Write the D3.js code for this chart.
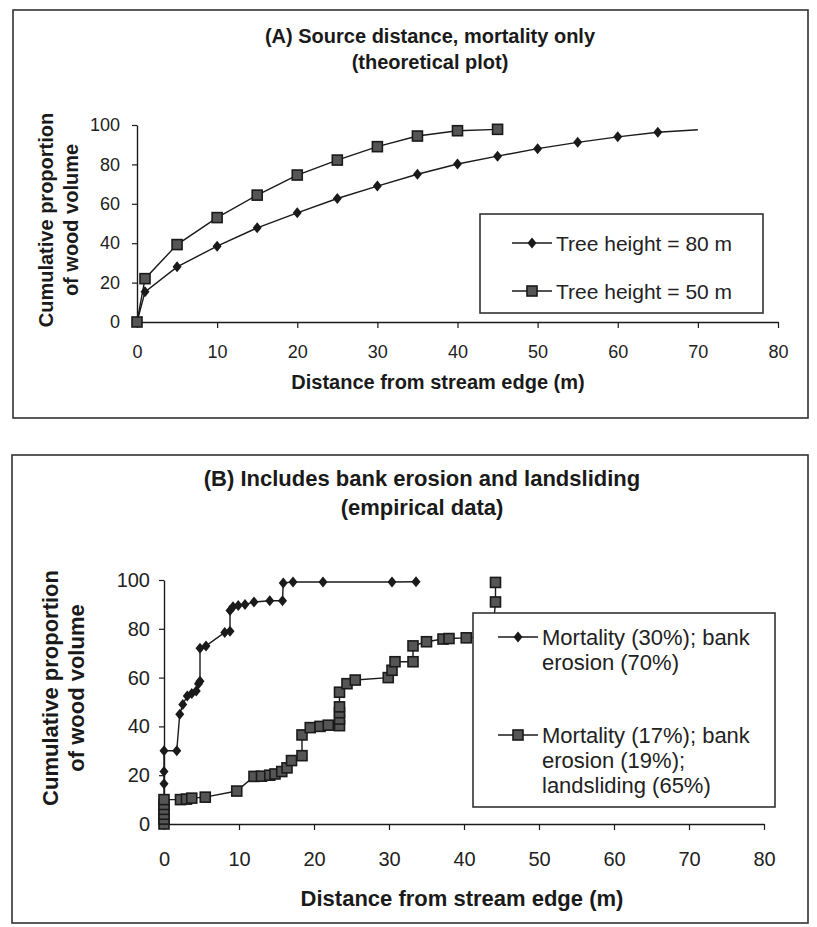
<!DOCTYPE html>
<html>
<head>
<meta charset="utf-8">
<script src="https://cdn.jsdelivr.net/npm/d3@7"></script>
<style>
  body { margin: 0; background: #fff; }
  svg { display: block; font-family: "Liberation Sans", Arial, sans-serif; }
</style>
</head>
<body>
<svg width="817" height="927"></svg>
<script>
// tick values shared by both panels
var xTicks = [0, 10, 20, 30, 40, 50, 60, 70, 80];
var yTicks = [0, 20, 40, 60, 80, 100];

// panel A: theoretical curves [distance m, cumulative %]
var treeH80 = [[0, 0], [1, 15.3], [5, 28], [10, 38.5], [15, 47.8], [20, 55.4], [25, 62.7], [30, 69],
  [35, 75], [40, 80.2], [45, 84.2], [50, 88], [55, 91.2], [60, 94], [65, 96.3], [70, 97.6]];
var treeH50 = [[0, 0], [1, 22], [5, 39.3], [10, 53], [15, 64.4], [20, 74.6], [25, 82.2], [30, 89],
  [35, 94.4], [40, 97.1], [45, 97.8]];

// panel B: empirical data
var mortBank = [[0, 0], [0, 16.5], [0, 21.5], [0, 30], [1.7, 30], [2.1, 45], [2.5, 49], [3.1, 52.5],
  [3.7, 53.5], [4.3, 54.5], [4.6, 57.5], [4.8, 58.5], [4.8, 72], [5.6, 73], [8.1, 78.5], [8.8, 79],
  [8.8, 87.5], [9.2, 89], [9.9, 89.5], [10.8, 90], [12, 91], [14.1, 91.5], [15.8, 91.5], [15.9, 98.8],
  [17.2, 99.2], [21.2, 99.2], [30.4, 99.2], [33.6, 99.3]];
var mortBankSlide = [[0, 0], [0, 2], [0, 4], [0, 6], [0, 8], [0, 10], [2.2, 10], [3, 10.2], [3.7, 10.6],
  [5.5, 11], [9.7, 13.5], [12, 19.5], [13, 19.6], [14.1, 20], [14.8, 20.5], [15.7, 21.5], [16.4, 23],
  [17, 26], [18.4, 28], [18.4, 36.5], [19.5, 39.5], [20.8, 40], [21.9, 40.5], [23.4, 40.3], [23.4, 43],
  [23.4, 45.6], [23.4, 48], [23.4, 54], [24.4, 57.5], [25.5, 59], [29.9, 60], [30.4, 63], [30.8, 66.5],
  [33.2, 66.5], [33.2, 73], [35, 74.7], [37.2, 75.8], [38, 76], [40.3, 76.3], [43.8, 77], [44.2, 91],
  [44.2, 99]];

var svg = d3.select("svg");
var ink = "#1a1a1a";

function diamond(sel) {
  sel.append("path").attr("d", "M0,-5.5L4.5,0L0,5.5L-4.5,0Z").attr("fill", ink);
}
function square(sel) {
  sel.append("rect").attr("x", -5).attr("y", -5).attr("width", 10).attr("height", 10)
    .attr("fill", "#555").attr("stroke", ink).attr("stroke-width", 1.6);
}

function drawPanel(p) {
  var g = svg.append("g");
  g.append("rect").attr("x", p.frame[0]).attr("y", p.frame[1])
    .attr("width", p.frame[2] - p.frame[0]).attr("height", p.frame[3] - p.frame[1])
    .attr("fill", "none").attr("stroke", "#333").attr("stroke-width", 1.6);

  var x = d3.scaleLinear().domain([0, 80]).range([p.x0, p.x1]);
  var y = d3.scaleLinear().domain([0, 100]).range([p.y0, p.y1]);

  var xAxis = g.append("g").attr("transform", "translate(0," + p.y0 + ")")
    .call(d3.axisBottom(x).tickValues(xTicks).tickSize(6).tickPadding(p.xPad).tickSizeOuter(0));
  var yAxis = g.append("g").attr("transform", "translate(" + p.x0 + ",0)")
    .call(d3.axisLeft(y).tickValues(yTicks).tickSize(5).tickPadding(p.yPad).tickSizeOuter(0));
  [xAxis, yAxis].forEach(function (a) {
    a.select(".domain").attr("stroke", ink).attr("stroke-width", 1.4);
    a.selectAll(".tick line").attr("stroke", ink).attr("stroke-width", 1.2);
    a.selectAll("text").attr("fill", "#222").style("font-size", p.tickFont + "px");
  });

  p.title.forEach(function (t, i) {
    g.append("text").attr("x", p.titleX).attr("y", p.titleY[i]).attr("text-anchor", "middle")
      .attr("dominant-baseline", "central").style("font-size", p.titleFont + "px")
      .style("font-weight", "bold").attr("fill", ink).text(t);
  });
  g.append("text").attr("x", p.xTitleX).attr("y", p.xTitleY).attr("text-anchor", "middle")
    .attr("dominant-baseline", "central").style("font-size", p.axisFont + "px")
    .style("font-weight", "bold").attr("fill", ink).text("Distance from stream edge (m)");
  ["Cumulative proportion", "of wood volume"].forEach(function (t, i) {
    g.append("text").attr("transform", "translate(" + p.yTitleX[i] + "," + p.yTitleY + ") rotate(-90)")
      .attr("text-anchor", "middle").attr("dominant-baseline", "central")
      .style("font-size", p.axisFont + "px").style("font-weight", "bold").attr("fill", ink).text(t);
  });

  var line = d3.line().x(function (d) { return x(d[0]); }).y(function (d) { return y(d[1]); });
  p.series.forEach(function (s) {
    g.append("path").datum(s.data).attr("d", line).attr("fill", "none")
      .attr("stroke", ink).attr("stroke-width", 1.4);
    g.selectAll(null).data(s.marked).enter().append("g")
      .attr("transform", function (d) { return "translate(" + x(d[0]) + "," + y(d[1]) + ")"; })
      .each(function () { s.marker(d3.select(this)); });
  });

  // legend
  var L = p.legend;
  g.append("rect").attr("x", L.box[0]).attr("y", L.box[1]).attr("width", L.box[2]).attr("height", L.box[3])
    .attr("fill", "#fff").attr("stroke", "#333").attr("stroke-width", 1.6);
  p.series.forEach(function (s, i) {
    var ly = L.rows[i];
    g.append("line").attr("x1", L.lineX[0]).attr("x2", L.lineX[1]).attr("y1", ly).attr("y2", ly)
      .attr("stroke", ink).attr("stroke-width", 1.4);
    s.marker(g.append("g").attr("transform", "translate(" + (L.lineX[0] + L.lineX[1]) / 2 + "," + ly + ")"));
    s.label.forEach(function (t, j) {
      g.append("text").attr("x", L.textX).attr("y", ly + j * L.lineGap).attr("dominant-baseline", "central")
        .style("font-size", L.font + "px").attr("fill", "#222").text(t);
    });
  });
}

drawPanel({
  frame: [13, 10, 808, 418],
  x0: 137, x1: 778, y0: 322, y1: 125, xPad: 17, yPad: 12, tickFont: 18,
  title: ["(A) Source distance, mortality only", "(theoretical plot)"],
  titleX: 430, titleY: [36, 62], titleFont: 20,
  xTitleX: 438, xTitleY: 382, axisFont: 20, yTitleX: [46, 71], yTitleY: 220,
  series: [
    { data: treeH80, marked: treeH80.slice(0, -1), marker: diamond, label: ["Tree height = 80 m"] },
    { data: treeH50, marked: treeH50, marker: square, label: ["Tree height = 50 m"] }
  ],
  legend: { box: [480, 214, 283, 99], rows: [243, 291], lineX: [512, 552], textX: 556, font: 21, lineGap: 25 }
});

drawPanel({
  frame: [12, 455, 808, 923],
  x0: 164, x1: 764, y0: 824, y1: 580, xPad: 22, yPad: 9, tickFont: 20,
  title: ["(B) Includes bank erosion and landsliding", "(empirical data)"],
  titleX: 422, titleY: [478, 507], titleFont: 22,
  xTitleX: 462, xTitleY: 898, axisFont: 22, yTitleX: [50, 76], yTitleY: 688,
  series: [
    { data: mortBank, marked: mortBank, marker: diamond, label: ["Mortality (30%); bank", "erosion (70%)"] },
    { data: mortBankSlide, marked: mortBankSlide, marker: square,
      label: ["Mortality (17%); bank", "erosion (19%);", "landsliding (65%)"] }
  ],
  legend: { box: [473, 613, 302, 194], rows: [637, 735], lineX: [498, 538], textX: 542, font: 22, lineGap: 25 }
});
</script>
</body>
</html>
